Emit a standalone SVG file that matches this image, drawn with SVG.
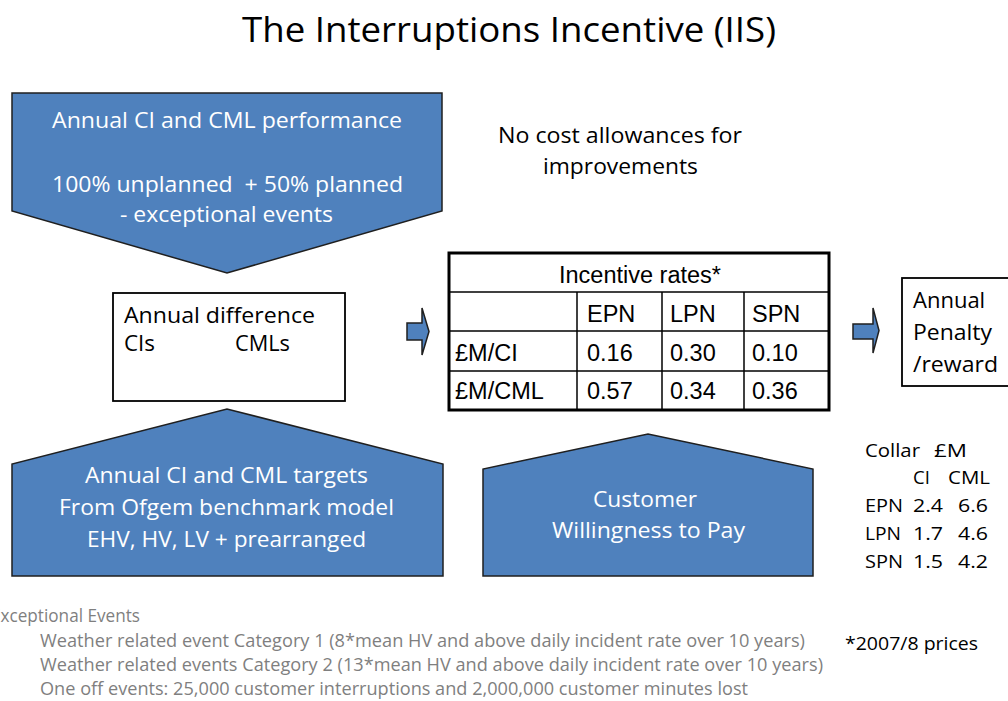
<svg xmlns="http://www.w3.org/2000/svg" width="1008" height="701" viewBox="0 0 1008 701">
<style>
.blue{fill:#4f81bd;stroke:#1f1f1f;stroke-width:1.5}
.box{fill:#fff;stroke:#000;stroke-width:1.8}
.c{font-family:"Open Sans","Liberation Sans",sans-serif}
.w{fill:#fff}
.k{fill:#000}
.g{fill:#7f7f7f}
.t{font-family:"Liberation Sans",Arial,sans-serif;font-size:23.5px;fill:#000}
.thin{stroke:#000;stroke-width:1.5}
</style>
<rect width="1008" height="701" fill="#fff"/>
<text class="c k" x="509" y="42" font-size="34" text-anchor="middle" textLength="534" lengthAdjust="spacingAndGlyphs">The Interruptions Incentive (IIS)</text>

<g id="performance">
<path class="blue" d="M12,93 H442 V211 L227,273 L12,211 Z"/>
<text class="c w" font-size="21.5" x="52" y="128" textLength="350" lengthAdjust="spacingAndGlyphs">Annual CI and CML performance</text>
<text class="c w" font-size="21.5" x="52" y="192" textLength="351" lengthAdjust="spacingAndGlyphs" xml:space="preserve">100% unplanned  + 50% planned</text>
<text class="c w" font-size="21.5" x="120" y="222" textLength="213" lengthAdjust="spacingAndGlyphs">- exceptional events</text>
</g>

<g id="difference">
<rect class="box" x="113" y="293" width="232" height="108"/>
<text class="c k" font-size="21.5" x="124" y="323" textLength="191" lengthAdjust="spacingAndGlyphs">Annual difference</text>
<text class="c k" font-size="21.5" x="124" y="351" textLength="31" lengthAdjust="spacingAndGlyphs">CIs</text>
<text class="c k" font-size="21.5" x="235" y="351" textLength="55" lengthAdjust="spacingAndGlyphs">CMLs</text>
</g>

<g id="targets">
<path class="blue" d="M12,576 V464 L227,409 L443,464 V576 Z"/>
<text class="c w" font-size="21.5" x="85" y="483" textLength="283" lengthAdjust="spacingAndGlyphs">Annual CI and CML targets</text>
<text class="c w" font-size="21.5" x="59" y="515" textLength="335" lengthAdjust="spacingAndGlyphs">From Ofgem benchmark model</text>
<text class="c w" font-size="21.5" x="87" y="547" textLength="279" lengthAdjust="spacingAndGlyphs">EHV, HV, LV + prearranged</text>
</g>

<g id="willingness">
<path class="blue" d="M483,576 V469 L648,434 L813,469 V576 Z"/>
<text class="c w" font-size="21.5" x="593" y="507" textLength="104" lengthAdjust="spacingAndGlyphs">Customer</text>
<text class="c w" font-size="21.5" x="552" y="538" textLength="193" lengthAdjust="spacingAndGlyphs">Willingness to Pay</text>
</g>

<g id="nocost">
<text class="c k" font-size="22" x="498" y="143" textLength="244" lengthAdjust="spacingAndGlyphs">No cost allowances for</text>
<text class="c k" font-size="22" x="543" y="174" textLength="155" lengthAdjust="spacingAndGlyphs">improvements</text>
</g>

<g id="connectors">
<polygon class="blue" points="407,323 422,323 422,308 429,331.5 422,355 422,340 407,340"/>
<polygon class="blue" points="853,324 873,324 873,308 879,330.5 873,353 873,339 853,339"/>
</g>

<g id="rates">
<rect x="449" y="253" width="380" height="157" fill="#fff" stroke="#000" stroke-width="3"/>
<line class="thin" x1="449" y1="292" x2="829" y2="292"/>
<line class="thin" x1="449" y1="331" x2="829" y2="331"/>
<line class="thin" x1="449" y1="371" x2="829" y2="371"/>
<line class="thin" x1="577" y1="292" x2="577" y2="410"/>
<line class="thin" x1="662" y1="292" x2="662" y2="410"/>
<line class="thin" x1="744" y1="292" x2="744" y2="410"/>
<text class="t" x="640" y="283" text-anchor="middle">Incentive rates*</text>
<text class="t" x="587" y="322">EPN</text>
<text class="t" x="670" y="322">LPN</text>
<text class="t" x="752" y="322">SPN</text>
<text class="t" x="455" y="361">£M/CI</text>
<text class="t" x="587" y="361">0.16</text>
<text class="t" x="670" y="361">0.30</text>
<text class="t" x="752" y="361">0.10</text>
<text class="t" x="455" y="399">£M/CML</text>
<text class="t" x="587" y="399">0.57</text>
<text class="t" x="670" y="399">0.34</text>
<text class="t" x="752" y="399">0.36</text>
</g>

<g id="penalty">
<rect class="box" x="902" y="278" width="120" height="108"/>
<text class="c k" font-size="22" x="913" y="308">Annual</text>
<text class="c k" font-size="22" x="913" y="340" textLength="79" lengthAdjust="spacingAndGlyphs">Penalty</text>
<text class="c k" font-size="22" x="913" y="372" textLength="85" lengthAdjust="spacingAndGlyphs">/reward</text>
</g>

<g id="collar" class="c k" font-size="18.5">
<text x="865" y="457" textLength="55" lengthAdjust="spacingAndGlyphs">Collar</text>
<text x="934" y="457" textLength="33" lengthAdjust="spacingAndGlyphs">£M</text>
<text x="913" y="484">CI</text>
<text x="948" y="484" textLength="42" lengthAdjust="spacingAndGlyphs">CML</text>
<text x="865" y="512" textLength="38" lengthAdjust="spacingAndGlyphs">EPN</text><text x="913" y="512" textLength="30" lengthAdjust="spacingAndGlyphs">2.4</text><text x="958" y="512" textLength="30" lengthAdjust="spacingAndGlyphs">6.6</text>
<text x="865" y="540" textLength="36" lengthAdjust="spacingAndGlyphs">LPN</text><text x="913" y="540" textLength="30" lengthAdjust="spacingAndGlyphs">1.7</text><text x="958" y="540" textLength="30" lengthAdjust="spacingAndGlyphs">4.6</text>
<text x="865" y="568" textLength="38" lengthAdjust="spacingAndGlyphs">SPN</text><text x="913" y="568" textLength="30" lengthAdjust="spacingAndGlyphs">1.5</text><text x="958" y="568" textLength="30" lengthAdjust="spacingAndGlyphs">4.2</text>
</g>

<g id="notes" class="c" font-size="17.5">
<text class="g" x="-9" y="622" textLength="149" lengthAdjust="spacingAndGlyphs">Exceptional Events</text>
<text class="g" x="40" y="647" textLength="765" lengthAdjust="spacingAndGlyphs">Weather related event Category 1 (8*mean HV and above daily incident rate over 10 years)</text>
<text class="g" x="40" y="671" textLength="783" lengthAdjust="spacingAndGlyphs">Weather related events Category 2 (13*mean HV and above daily incident rate over 10 years)</text>
<text class="g" x="40" y="695" textLength="708" lengthAdjust="spacingAndGlyphs">One off events: 25,000 customer interruptions and 2,000,000 customer minutes lost</text>
<text class="k" x="845" y="650" textLength="133" lengthAdjust="spacingAndGlyphs">*2007/8 prices</text>
</g>
</svg>
